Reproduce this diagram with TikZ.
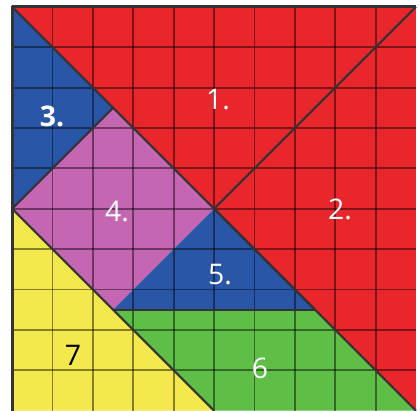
\documentclass[tikz,border=0pt]{standalone}
\usepackage{fontspec}
\setmainfont{Open Sans}
\usetikzlibrary{calc}
\definecolor{tred}{HTML}{E8262C}
\definecolor{tblue}{HTML}{2A56A8}
\definecolor{tpink}{HTML}{C466B2}
\definecolor{tgreen}{HTML}{5EBE46}
\definecolor{tyellow}{HTML}{F4E94C}
\tikzset{
  piece/.style={draw=black!80,line width=1.5pt,line join=round},
  gridln/.style={draw=black,line width=1.3pt,opacity=0.45},
  num/.style={font=\fontsize{20}{24}\selectfont,text=white,inner sep=0pt},
}

\begin{document}
\begin{tikzpicture}
\useasboundingbox (-0.3,0) rectangle (10.1,10.17);
% corners and inner points of the tangram
\coordinate (tl) at (0,10);
\coordinate (tr) at (10,10);
\coordinate (br) at (10,0);
\coordinate (bl) at (0,0);
\coordinate (c) at (5,5);
\coordinate (lm) at (0,5);
\coordinate (bm) at (5,0);
\coordinate (q1) at (2.5,7.5);
\coordinate (q2) at (2.5,2.5);
\coordinate (q3) at (7.5,2.5);
% pieces
\fill[tred] (tl) -- (tr) -- (c) -- cycle;
\fill[tred] (tr) -- (br) -- (c) -- cycle;
\fill[tblue] (tl) -- (q1) -- (lm) -- cycle;
\fill[tpink] (lm) -- (q1) -- (c) -- (q2) -- cycle;
\fill[tblue] (c) -- (q3) -- (q2) -- cycle;
\fill[tgreen] (q2) -- (q3) -- (br) -- (bm) -- cycle;
\fill[tyellow] (lm) -- (bm) -- (bl) -- cycle;
% grid
\foreach \i in {1,...,9} {
  \draw[gridln] (\i,0) -- (\i,10);
  \draw[gridln] (0,\i) -- (10,\i);
}
% edges
\draw[piece] (tl) -- (br);
\draw[piece] (tr) -- (c);
\draw[piece] (lm) -- (q1);
\draw[piece] (lm) -- (bm);
\draw[piece] (q2) -- (q3);
\draw[piece] (c) -- (q3);
\draw[piece,line width=2pt] (bl) -- (tl) -- (tr);
% labels
\node[num] (n1) at (5.1,7.7) {1.};
\node[num] (n2) at (8.12,4.98) {2.};
\node[num,font=\fontsize{20}{24}\selectfont\bfseries] (n3) at (0.99,7.28) {3.};
\node[num] (n4) at (2.6,4.93) {4.};
\node[num] (n5) at (5.15,3.37) {5.};
\node[num] (n6) at (6.14,1.06) {6};
\node[num,text=black] (n7) at (1.51,1.36) {7};
\end{tikzpicture}
\end{document}
